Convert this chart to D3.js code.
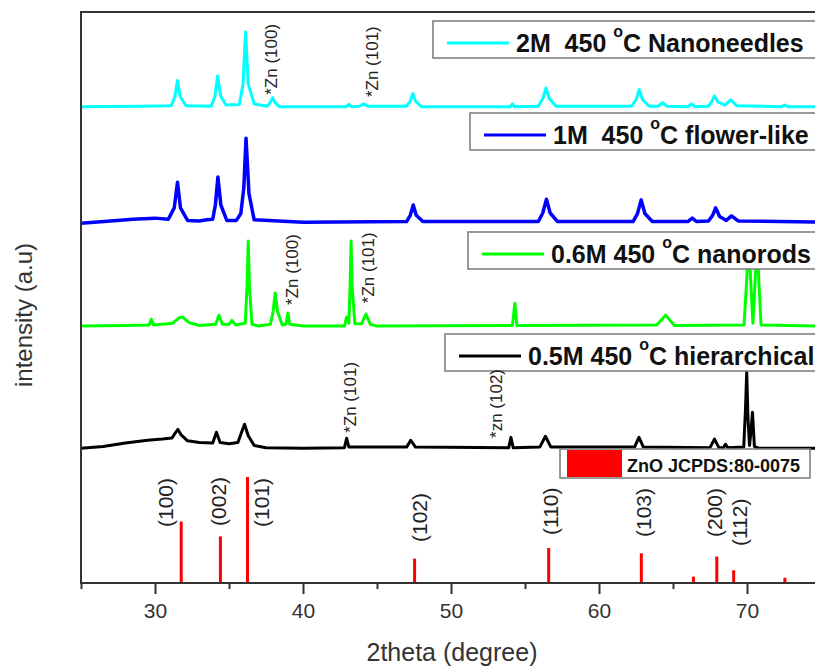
<!DOCTYPE html>
<html>
<head>
<meta charset="utf-8">
<script src="https://cdn.jsdelivr.net/npm/d3@7"></script>
<style>
  html, body { margin: 0; padding: 0; background: #fff; overflow: hidden; }
  svg { display: block; font-family: "Liberation Sans", Arial, sans-serif; }
</style>
</head>
<body>
<svg id="xrd-chart"></svg>
<script>
// XRD patterns, [2theta, intensity above the pattern's own baseline] (a.u.)
var pattern2M = [[25,0],[29,0.1],[31.1,0.2],[31.35,1.8],[31.52,4.6],[31.7,1.8],[32.1,0.2],
  [33.8,0.1],[34.05,1.8],[34.23,5.4],[34.45,1.8],[34.8,0.3],
  [35.7,0.4],[35.95,4],[36.12,13.1],[36.3,4],[36.7,0.5],
  [37.6,0.1],[37.8,0.8],[37.95,1.6],[38.1,0.8],[38.4,0],
  [42.9,0],[43.1,0.4],[43.3,0],[43.8,0.1],[44.1,0.5],[44.4,0.1],
  [47.0,0.1],[47.25,1.0],[47.42,2.3],[47.6,1.0],[48.0,0],
  [54.0,0],[54.15,0.5],[54.3,0],
  [55.9,0.1],[56.2,1.4],[56.42,3.3],[56.65,1.4],[57.1,0.1],
  [62.2,0.1],[62.5,1.2],[62.72,3.0],[62.95,1.2],[63.4,0.1],
  [64.0,0.1],[64.3,0.7],[64.6,0.1],
  [66.0,0],[66.25,0.5],[66.5,0],
  [67.4,0.1],[67.62,0.9],[67.8,1.9],[68.05,0.8],[68.5,0.3],[68.9,1.2],[69.3,0.2],
  [72.3,0],[72.55,0.3],[72.8,0],[75,0]];

var pattern1M = [[25,-0.2],[27,0.2],[28.5,0.5],[30.0,0.7],[30.9,0.5],[31.3,2.5],[31.52,7.0],[31.72,2.5],[32.2,0.3],
  [33.0,0.2],[33.5,0.4],[33.9,0.5],[34.08,3],[34.25,7.9],[34.45,3],[34.85,0.3],[35.5,0.3],
  [35.8,1.5],[36.0,6],[36.15,14.7],[36.35,5],[36.7,0.4],
  [40,0],[47.0,0.1],[47.25,1.2],[47.45,3.0],[47.65,1.2],[48.1,0.1],
  [55.9,0.1],[56.2,1.6],[56.45,4.0],[56.7,1.6],[57.2,0.1],
  [62.3,0.1],[62.6,1.5],[62.85,3.9],[63.1,1.5],[63.6,0.1],
  [66.0,0.1],[66.3,0.7],[66.6,0.1],
  [67.4,0.2],[67.68,1.2],[67.88,2.5],[68.15,1.0],[68.6,0.3],[68.95,1.1],[69.4,0.2],
  [75,0]];

var pattern06M = [[25,0],[28,0.1],[29.6,0.2],[29.75,1.2],[29.9,0.2],[31.2,0.5],[31.6,1.4],[31.85,1.6],[32.3,0.6],
  [33.0,0.1],[34.1,0.3],[34.32,1.9],[34.55,0.3],[35.0,0.3],[35.2,1.0],[35.45,0.2],
  [36.1,0.5],[36.22,7],[36.3,14.9],[36.38,7],[36.55,0.3],[37.0,0],
  [37.8,0.3],[37.98,2.5],[38.12,5.8],[38.28,2.5],[38.6,0.2],[38.85,0.3],[38.98,2.3],[39.1,0.3],
  [40,0],[42.8,0],[42.95,1.6],[43.1,0.5],[43.18,7],[43.25,14.9],[43.32,7],[43.5,0.4],
  [43.95,0.4],[44.25,2.1],[44.55,0.3],[45,0],
  [54.15,0.1],[54.32,4.0],[54.45,0.1],
  [63.9,0.2],[64.3,1.3],[64.5,1.9],[64.7,1.3],[65.1,0.1],
  [69.8,0.2],[69.98,8],[70.12,15],[70.25,8],[70.4,0.5],[70.55,8],[70.68,15],[70.8,8],[70.95,0.2],[75,0]];

var pattern05M = [[25,0],[26.5,0.3],[28,0.9],[29.5,1.4],[30.5,1.6],[31.15,1.8],[31.35,2.6],[31.55,3.3],[31.75,2.4],
  [32.2,1.3],[33.0,1.0],[33.9,0.9],[34.15,2.8],[34.4,1.0],[35.0,0.8],[35.6,1.0],
  [35.85,2.8],[36.05,4.2],[36.3,2.2],[36.7,0.5],[37.5,0.1],
  [40,0],[42.8,0.1],[42.95,1.75],[43.1,0.2],[47.0,0.2],[47.28,1.4],[47.6,0.2],
  [53.9,0.1],[54.05,1.9],[54.2,0.1],[56.0,0.2],[56.38,2.1],[56.75,0.2],
  [62.4,0.2],[62.7,1.9],[63.0,0.2],[67.5,0.1],[67.8,1.6],[68.1,0.1],
  [68.4,0.1],[68.55,0.7],[68.7,0.1],
  [69.78,0.2],[69.9,7],[69.98,13.3],[70.07,5],[70.17,0.5],[70.27,3],[70.37,6.3],[70.5,0.3],[70.8,0],[75,0]];

// vertical offsets of the stacked patterns (a.u.)
var seriesNames = ["2M  450 °C Nanoneedles", "1M  450 °C flower-like", "0.6M 450 °C nanorods", "0.5M 450 °C hierarchical"];
var seriesColors = ["#00ffff", "#0000ff", "#00ff00", "#000000"];
var seriesOffsets = [83.4, 63.2, 45.0, 23.6];
var seriesData = [pattern2M, pattern1M, pattern06M, pattern05M];

// ZnO JCPDS 80-0075 reference lines
var refAngle = [31.77, 34.42, 36.25, 47.54, 56.60, 62.86, 66.38, 67.96, 69.10, 72.56];
var refIntensity = [58, 44, 100, 23, 33, 28, 6, 25, 12, 5];
var hklText = ["(100)", "(002)", "(101)", "(102)", "(110)", "(103)", "(200)", "(112)"];
var hklAngle = [30.74, 34.32, 37.23, 47.9, 56.76, 63.04, 67.84, 69.53];
var hklBottom = [52.8, 53.8, 52.8, 38.7, 45.3, 43.4, 43.4, 34.9];

// metallic Zn annotations
var znText = ["*Zn (100)", "*Zn (101)", "*Zn (100)", "*Zn (101)", "*Zn (101)", "*zn (102)"];
var znAngle = [37.84, 44.66, 39.26, 44.39, 43.18, 53.04];
var znBottom = [85.5, 85.1, 48.7, 49.0, 26.3, 25.4];

var majorTicks = [30, 40, 50, 60, 70];
var minorTicks = [25, 35, 45, 55, 65, 75];

var svg = d3.select("#xrd-chart").attr("width", 815).attr("height", 666);

var x = d3.scaleLinear().domain([25, 75]).range([81, 821]);
var y = d3.scaleLinear().domain([0, 100]).range([583, 12]);
var yRef = d3.scaleLinear().domain([0, 100]).range([583, 477]);

svg.append("clipPath").attr("id", "plot-clip")
  .append("rect").attr("x", 81).attr("y", 12).attr("width", 740).attr("height", 571);

var plot = svg.append("g").attr("clip-path", "url(#plot-clip)");

// reference sticks
plot.selectAll("line.ref")
  .data(refAngle)
  .enter().append("line")
  .attr("class", "ref")
  .attr("x1", function(d) { return x(d); })
  .attr("x2", function(d) { return x(d); })
  .attr("y1", yRef(0))
  .attr("y2", function(d, i) { return yRef(refIntensity[i]); })
  .attr("stroke", "#ff0000")
  .attr("stroke-width", 3);

// patterns
seriesData.forEach(function(pts, i) {
  var line = d3.line()
    .x(function(d) { return x(d[0]); })
    .y(function(d) { return y(d[1] + seriesOffsets[i]); });
  plot.append("path")
    .datum(pts)
    .attr("fill", "none")
    .attr("stroke", seriesColors[i])
    .attr("stroke-width", i === 1 ? 3.5 : 3)
    .attr("stroke-linejoin", "round")
    .attr("d", line);
});

// legend boxes
var legendBox = [{x: 433, y: 21}, {x: 470, y: 113}, {x: 468, y: 232}, {x: 445, y: 334}];
var legend = svg.selectAll("g.legend")
  .data(seriesNames)
  .enter().append("g")
  .attr("class", "legend")
  .attr("transform", function(d, i) { return "translate(" + legendBox[i].x + "," + legendBox[i].y + ")"; });

legend.append("rect")
  .attr("width", 420).attr("height", 37)
  .attr("fill", "#fff").attr("stroke", "#808080").attr("stroke-width", 1.6);

legend.append("line")
  .attr("x1", 14).attr("x2", 76).attr("y1", 22).attr("y2", 22)
  .attr("stroke", function(d, i) { return seriesColors[i]; })
  .attr("stroke-width", 3);

legend.append("text")
  .attr("x", 83).attr("y", 31)
  .attr("font-size", 25).attr("font-weight", "bold").attr("fill", "#111")
  .style("white-space", "pre")
  .each(function(d) {
    var parts = d.split("°");
    var t = d3.select(this);
    t.append("tspan").text(parts[0]);
    t.append("tspan").attr("dy", -15).attr("font-size", 16).text("o");
    t.append("tspan").attr("dy", 15).text(parts[1]);
  });

// ZnO reference legend
var refLegend = svg.append("g").attr("transform", "translate(560,449)");
refLegend.append("rect").attr("width", 250).attr("height", 29)
  .attr("fill", "#fff").attr("stroke", "#808080").attr("stroke-width", 1.6);
refLegend.append("rect").attr("x", 7).attr("y", 1).attr("width", 55).attr("height", 27).attr("fill", "#ff0000");
refLegend.append("text").attr("x", 67).attr("y", 23)
  .attr("font-size", 18).attr("font-weight", "bold").attr("fill", "#111")
  .text("ZnO JCPDS:80-0075");

// hkl labels
svg.selectAll("text.hkl")
  .data(hklText)
  .enter().append("text")
  .attr("class", "hkl")
  .attr("transform", function(d, i) { return "translate(" + x(hklAngle[i]) + "," + yRef(hklBottom[i]) + ") rotate(-90)"; })
  .attr("dy", "0.35em")
  .attr("font-size", 21)
  .attr("fill", "#222")
  .text(function(d) { return d; });

// Zn labels
svg.selectAll("text.zn")
  .data(znText)
  .enter().append("text")
  .attr("class", "zn")
  .attr("transform", function(d, i) { return "translate(" + x(znAngle[i]) + "," + y(znBottom[i]) + ") rotate(-90)"; })
  .attr("dy", "0.35em")
  .attr("font-size", 17)
  .attr("fill", "#222")
  .text(function(d) { return d; });

// frame
svg.append("rect")
  .attr("x", 81).attr("y", 12).attr("width", 740).attr("height", 571)
  .attr("fill", "none").attr("stroke", "#333").attr("stroke-width", 2);

// x axis
var xAxis = svg.append("g")
  .attr("transform", "translate(0,583)")
  .call(d3.axisBottom(x).tickValues(majorTicks).tickSize(11).tickPadding(9).tickFormat(d3.format("d")));
xAxis.select(".domain").remove();
xAxis.selectAll("line").attr("stroke", "#333").attr("stroke-width", 2);
xAxis.selectAll("text").attr("font-size", 21).attr("fill", "#333").attr("font-family", "Liberation Sans, Arial, sans-serif");

var xMinor = svg.append("g")
  .attr("transform", "translate(0,583)")
  .call(d3.axisBottom(x).tickValues(minorTicks).tickSize(6).tickFormat(""));
xMinor.select(".domain").remove();
xMinor.selectAll("line").attr("stroke", "#333").attr("stroke-width", 2);

// axis titles
svg.append("text")
  .attr("x", 452).attr("y", 661)
  .attr("text-anchor", "middle")
  .attr("font-size", 25).attr("fill", "#333")
  .text("2theta (degree)");

svg.append("text")
  .attr("transform", "translate(32,315) rotate(-90)")
  .attr("text-anchor", "middle")
  .attr("font-size", 24).attr("fill", "#333")
  .text("intensity (a.u)");
</script>
</body>
</html>
